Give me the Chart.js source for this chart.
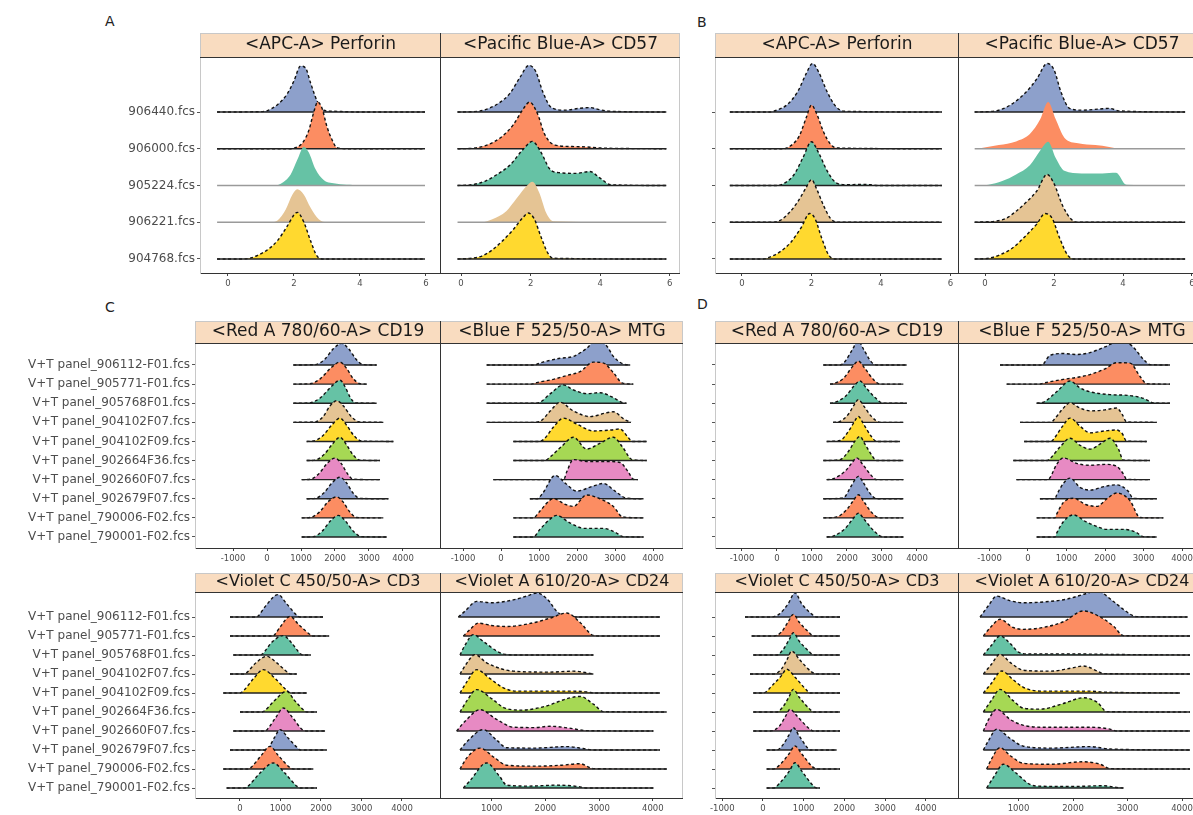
<!DOCTYPE html>
<html>
<head>
<meta charset="utf-8">
<title>Ridge plots</title>
<script src="https://cdn.jsdelivr.net/npm/chart.js@4.4.0/dist/chart.umd.min.js"></script>
<style>
  html, body { margin: 0; padding: 0; background: #fff; overflow: hidden; }
  body { width: 1193px; height: 815px; position: relative; font-family: "DejaVu Sans", sans-serif; }
  .facet { position: absolute; }
  .tag { position: absolute; font-size: 14px; color: #222; }
</style>
</head>
<body>
<div class="tag" style="left:105px;top:13px">A</div>
<div class="tag" style="left:697px;top:14px">B</div>
<div class="tag" style="left:105px;top:299px">C</div>
<div class="tag" style="left:697px;top:296px">D</div>
<script>
// sample names, top row first
var samplesAB = ['906440.fcs', '906000.fcs', '905224.fcs', '906221.fcs', '904768.fcs'];
var samplesCD = ['V+T panel_906112-F01.fcs', 'V+T panel_905771-F01.fcs', 'V+T panel_905768F01.fcs',
  'V+T panel_904102F07.fcs', 'V+T panel_904102F09.fcs', 'V+T panel_902664F36.fcs',
  'V+T panel_902660F07.fcs', 'V+T panel_902679F07.fcs', 'V+T panel_790006-F02.fcs',
  'V+T panel_790001-F02.fcs'];

// tick labels
var ticksAB = [0, 2, 4, 6];
var ticksWide = [-1000, 0, 1000, 2000, 3000, 4000];
var ticksFrom0 = [0, 1000, 2000, 3000, 4000];
var ticksFrom1000 = [1000, 2000, 3000, 4000];

// ridges: one list of [value, density] per sample, top row first
var perforinA = [
  [[-0.33,0],[1.0,0.01],[1.2,0.04],[1.5,0.2],[1.8,0.5],[2.0,0.85],[2.2,1.25],[2.35,1.2],[2.5,0.8],[2.7,0.3],[2.9,0.05],[3.2,0.02],[4,0],[5.97,0]],
  [[-0.33,0],[1.9,0],[2.1,0.05],[2.25,0.15],[2.45,0.5],[2.6,1.0],[2.72,1.27],[2.85,1.1],[3.0,0.6],[3.15,0.25],[3.3,0.03],[3.6,0],[5.97,0]],
  [[-0.33,0],[1.4,0],[1.6,0.05],[1.9,0.3],[2.1,0.7],[2.3,1.05],[2.45,0.9],[2.65,0.45],[2.9,0.15],[3.3,0.05],[3.7,0.02],[4,0],[5.97,0]],
  [[-0.33,0],[1.3,0],[1.5,0.05],[1.75,0.35],[1.95,0.75],[2.1,0.9],[2.3,0.75],[2.5,0.4],[2.75,0.08],[3.0,0],[5.97,0]],
  [[-0.33,0],[0.4,0],[0.7,0.03],[0.9,0.1],[1.2,0.25],[1.5,0.5],[1.8,0.9],[2.0,1.2],[2.1,1.27],[2.3,1.0],[2.5,0.5],[2.7,0.08],[2.9,0],[5.97,0]]
];
var cd57A = [
  [[-0.1,0],[0.5,0.02],[0.8,0.1],[1.1,0.25],[1.4,0.5],[1.7,0.95],[1.95,1.27],[2.15,1.1],[2.35,0.55],[2.6,0.12],[3.0,0.05],[3.4,0.1],[3.7,0.12],[4.0,0.06],[4.3,0.02],[5.9,0]],
  [[-0.1,0],[0.4,0.02],[0.8,0.12],[1.2,0.35],[1.5,0.65],[1.8,1.1],[1.97,1.27],[2.2,0.95],[2.4,0.4],[2.7,0.1],[3.2,0.06],[3.6,0.05],[4.0,0.02],[5.9,0]],
  [[-0.1,0],[0.3,0.02],[0.7,0.12],[1.0,0.28],[1.4,0.55],[1.8,1.0],[2.05,1.2],[2.3,0.9],[2.55,0.45],[2.8,0.35],[3.3,0.33],[3.7,0.38],[4.0,0.2],[4.3,0.02],[5.9,0]],
  [[-0.1,0],[0.6,0],[0.9,0.08],[1.3,0.3],[1.6,0.65],[1.9,1.0],[2.05,1.1],[2.25,0.8],[2.45,0.25],[2.65,0.03],[5.9,0]],
  [[-0.1,0],[0.3,0.02],[0.6,0.08],[0.9,0.25],[1.2,0.5],[1.5,0.8],[1.8,1.15],[1.93,1.25],[2.1,1.1],[2.3,0.6],[2.5,0.15],[2.65,0.02],[5.9,0]]
];
var perforinB = [
  [[-0.35,0],[0.8,0],[1.0,0.05],[1.3,0.2],[1.6,0.55],[1.85,1.05],[2.03,1.32],[2.2,1.1],[2.45,0.55],[2.7,0.15],[2.95,0.02],[5.75,0]],
  [[-0.35,0],[1.2,0],[1.4,0.08],[1.65,0.35],[1.85,0.85],[2.0,1.19],[2.15,0.95],[2.35,0.45],[2.55,0.12],[2.75,0.02],[5.75,0]],
  [[-0.35,0],[1.0,0],[1.25,0.08],[1.5,0.3],[1.75,0.75],[2.0,1.19],[2.2,0.9],[2.45,0.4],[2.7,0.08],[3.0,0.02],[3.4,0.03],[3.7,0.02],[3.9,0],[5.75,0]],
  [[-0.35,0],[0.9,0],[1.1,0.05],[1.35,0.25],[1.6,0.55],[1.85,0.95],[2.0,1.16],[2.15,0.9],[2.35,0.45],[2.55,0.1],[2.75,0],[5.75,0]],
  [[-0.35,0],[0.6,0],[0.8,0.05],[1.1,0.2],[1.4,0.45],[1.7,0.85],[1.95,1.24],[2.1,1.1],[2.3,0.55],[2.5,0.1],[2.7,0],[5.75,0]]
];
var cd57B = [
  [[-0.3,0],[0.3,0.03],[0.6,0.12],[0.9,0.3],[1.2,0.55],[1.5,0.9],[1.8,1.32],[2.0,1.15],[2.2,0.55],[2.45,0.1],[2.8,0.05],[3.3,0.08],[3.6,0.1],[3.9,0.03],[5.8,0]],
  [[-0.3,0],[-0.1,0.02],[0.4,0.1],[0.9,0.2],[1.3,0.4],[1.6,0.8],[1.83,1.27],[2.05,0.8],[2.3,0.3],[2.7,0.15],[3.2,0.1],[3.6,0.05],[3.9,0],[5.8,0]],
  [[-0.3,0],[0.1,0.02],[0.5,0.12],[0.9,0.3],[1.3,0.55],[1.6,0.95],[1.83,1.19],[2.05,0.75],[2.3,0.4],[2.8,0.33],[3.4,0.33],[3.8,0.35],[4.1,0.02],[5.8,0]],
  [[-0.3,0],[0.3,0.03],[0.6,0.1],[0.9,0.3],[1.2,0.55],[1.5,0.85],[1.8,1.3],[2.0,1.05],[2.25,0.45],[2.5,0.08],[2.7,0],[5.8,0]],
  [[-0.3,0],[0.1,0.02],[0.4,0.1],[0.8,0.3],[1.2,0.65],[1.5,0.95],[1.74,1.24],[1.95,1.1],[2.15,0.6],[2.4,0.1],[2.6,0],[5.8,0]]
];
var cd19C = [
  [[775,0],[1412,0.02],[1700,0.3],[1950,0.85],[2196,1.13],[2400,0.85],[2620,0.3],[2833,0.02],[3225,0]],
  [[775,0],[1265,0.02],[1580,0.3],[1880,0.85],[2147,1.15],[2330,0.85],[2530,0.3],[2735,0.02],[2931,0]],
  [[775,0],[1265,0.02],[1580,0.3],[1880,0.85],[2147,1.2],[2300,0.85],[2450,0.3],[2600,0.02],[3225,0]],
  [[775,0],[1412,0.02],[1650,0.3],[1850,0.85],[2049,1.13],[2250,0.85],[2480,0.3],[2735,0.02],[3422,0]],
  [[1167,0],[1363,0.02],[1640,0.3],[1900,0.85],[2147,1.22],[2340,0.85],[2560,0.3],[2784,0.02],[3716,0]],
  [[1167,0],[1412,0.02],[1670,0.3],[1920,0.85],[2147,1.22],[2330,0.85],[2530,0.3],[2735,0.02],[3324,0]],
  [[1020,0],[1265,0.02],[1520,0.3],[1770,0.85],[2000,1.13],[2180,0.85],[2370,0.3],[2539,0.02],[3324,0]],
  [[1167,0],[1412,0.02],[1670,0.3],[1920,0.85],[2147,1.13],[2330,0.85],[2530,0.3],[2735,0.02],[3569,0]],
  [[1020,0],[1265,0.02],[1540,0.3],[1800,0.85],[2049,1.1],[2230,0.85],[2440,0.3],[2640,0.02],[3422,0]],
  [[1020,0],[1363,0.02],[1620,0.3],[1870,0.85],[2098,1.13],[2300,0.85],[2540,0.3],[2784,0.02],[3520,0]]
];
var mtgC = [
  [[-377,0],[851,0],[1100,0.15],[1553,0.35],[1904,0.45],[2254,0.87],[2480,1.25],[2781,1.0],[2956,0.45],[3220,0.05],[3400,0]],
  [[-377,0],[800,0],[939,0.08],[1377,0.25],[1728,0.45],[2079,0.65],[2430,1.15],[2700,1.1],[2956,0.6],[3200,0.05],[3480,0]],
  [[-377,0],[900,0],[1026,0.05],[1300,0.5],[1640,0.96],[1900,0.7],[2254,0.5],[2605,0.55],[2900,0.35],[3200,0.03],[3300,0]],
  [[-377,0],[850,0],[1026,0.05],[1300,0.6],[1553,1.05],[1900,0.6],[2340,0.3],[2781,0.5],[2956,0.55],[3250,0.15],[3420,0]],
  [[325,0],[1000,0],[1120,0.1],[1400,0.8],[1640,1.22],[2000,0.9],[2430,0.55],[2900,0.6],[3132,0.65],[3350,0.2],[3450,0],[3833,0]],
  [[325,0],[1150,0],[1300,0.2],[1600,0.75],[1904,1.22],[2254,0.6],[2600,0.9],[2956,1.22],[3200,0.7],[3450,0.05],[3833,0]],
  [[-202,0],[1650,0],[1728,0.4],[1904,1.05],[2254,0.95],[2781,0.95],[3132,0.9],[3350,0.4],[3482,0.02],[3600,0]],
  [[760,0],[950,0],[1100,0.3],[1420,1.22],[1700,0.8],[1990,0.4],[2400,0.65],[2700,0.8],[3000,0.4],[3307,0.03],[3750,0]],
  [[325,0],[850,0],[1000,0.3],[1377,1.0],[1700,0.7],[1904,0.6],[2254,1.2],[2605,1.0],[2956,0.6],[3200,0.05],[3750,0]],
  [[325,0],[850,0],[1026,0.4],[1300,0.95],[1465,1.13],[1800,0.75],[2200,0.45],[2700,0.45],[3000,0.25],[3220,0.02],[3750,0]]
];
var cd3C = [
  [[-247,0],[411,0],[450,0.05],[640,0.6],[940,1.18],[1150,0.7],[1400,0.1],[1481,0],[2050,0]],
  [[-247,0],[823,0],[850,0.05],[1000,0.5],[1235,1.03],[1450,0.6],[1750,0.05],[1811,0],[2200,0]],
  [[-165,0],[494,0],[550,0.05],[800,0.7],[1070,1.02],[1250,0.7],[1500,0.05],[1560,0],[1750,0]],
  [[-247,0],[80,0],[150,0.05],[400,0.6],[658,0.93],[900,0.6],[1200,0.05],[1250,0],[1400,0]],
  [[-412,0],[0,0],[100,0.15],[350,0.8],[576,1.23],[850,0.8],[1150,0.15],[1250,0],[1650,0]],
  [[0,0],[550,0],[600,0.05],[850,0.6],[1152,1.09],[1350,0.6],[1600,0.05],[1650,0],[1900,0]],
  [[-165,0],[620,0],[700,0.15],[880,0.7],[1070,1.21],[1300,0.7],[1550,0.05],[1650,0],[2100,0]],
  [[-247,0],[620,0],[700,0.1],[850,0.65],[988,1.07],[1200,0.6],[1450,0.05],[1481,0],[2140,0]],
  [[-412,0],[200,0],[280,0.1],[520,0.7],[740,1.19],[950,0.7],[1250,0.05],[1317,0],[1811,0]],
  [[-330,0],[120,0],[200,0.1],[500,0.8],[823,1.32],[1100,0.8],[1400,0.1],[1480,0],[1900,0]]
];
var cd24C = [
  [[379,0],[500,0.3],[720,0.82],[1000,0.75],[1400,0.9],[1650,1.1],[1837,1.26],[2050,0.9],[2210,0.3],[2396,0.02],[2700,0],[4134,0]],
  [[472,0],[600,0.35],[750,0.68],[1000,0.55],[1279,0.5],[1700,0.65],[2100,0.95],[2396,1.21],[2650,0.7],[2893,0.03],[3050,0],[4134,0]],
  [[410,0],[500,0.5],[658,1.07],[850,0.7],[1100,0.2],[1279,0.02],[1500,0],[2893,0]],
  [[410,0],[520,0.5],[690,1.02],[900,0.6],[1150,0.3],[1400,0.15],[2085,0.1],[2520,0.15],[2800,0.05],[2893,0]],
  [[410,0],[540,0.6],[720,1.23],[950,0.8],[1200,0.3],[1450,0.1],[2400,0.1],[2800,0.05],[2893,0],[4134,0]],
  [[410,0],[540,0.6],[720,1.18],[1000,0.7],[1250,0.2],[1550,0.1],[2000,0.3],[2400,0.7],[2644,0.82],[2900,0.4],[3080,0.02],[4258,0]],
  [[348,0],[500,0.5],[782,1.12],[1100,0.6],[1403,0.2],[1800,0.18],[2085,0.25],[2450,0.15],[2768,0.02],[4010,0]],
  [[410,0],[560,0.5],[844,1.07],[1100,0.5],[1279,0.12],[1800,0.1],[2396,0.18],[2700,0.08],[2893,0],[4134,0]],
  [[410,0],[540,0.6],[782,1.1],[1050,0.6],[1279,0.2],[1800,0.15],[2300,0.2],[2644,0.28],[2893,0.02],[4258,0]],
  [[472,0],[600,0.4],[906,1.32],[1150,0.6],[1279,0.15],[1700,0.1],[2210,0.15],[2600,0.08],[2768,0],[4010,0]]
];
var cd19D = [
  [[1324,0],[1800,0],[1950,0.2],[2150,0.8],[2324,1.26],[2480,0.8],[2700,0.15],[2848,0],[3705,0]],
  [[1514,0],[1600,0.02],[1900,0.3],[2150,0.9],[2324,1.2],[2500,0.85],[2750,0.25],[2950,0],[3610,0]],
  [[1514,0],[1610,0.02],[1950,0.35],[2200,0.9],[2371,1.16],[2550,0.8],[2800,0.3],[3038,0],[3705,0]],
  [[1600,0],[1800,0.05],[2050,0.45],[2200,0.9],[2324,1.19],[2480,0.85],[2700,0.3],[2950,0],[3610,0]],
  [[1420,0],[1800,0.05],[2050,0.55],[2200,1.0],[2324,1.31],[2460,0.95],[2680,0.3],[2848,0],[3515,0]],
  [[1324,0],[1800,0.05],[2050,0.5],[2220,1.0],[2371,1.26],[2500,0.9],[2700,0.3],[2848,0],[3610,0]],
  [[1420,0],[1610,0.05],[1950,0.45],[2150,0.9],[2276,1.14],[2450,0.8],[2680,0.25],[2848,0],[3610,0]],
  [[1324,0],[1895,0.05],[2100,0.6],[2230,1.0],[2324,1.17],[2450,0.9],[2650,0.3],[2848,0],[3610,0]],
  [[1324,0],[1705,0.05],[2000,0.45],[2180,0.9],[2324,1.21],[2480,0.85],[2720,0.25],[2950,0],[3610,0]],
  [[1420,0],[1610,0.05],[1950,0.45],[2170,0.95],[2324,1.24],[2500,0.9],[2780,0.3],[3038,0],[3610,0]]
];
var mtgD = [
  [[-727,0],[350,0],[571,0.5],[900,0.6],[1264,0.55],[1610,0.65],[2000,0.95],[2390,1.26],[2700,1.0],[2996,0.3],[3169,0.02],[3688,0]],
  [[-554,0],[300,0],[398,0.05],[918,0.25],[1264,0.35],[1610,0.5],[2000,0.8],[2303,1.12],[2649,1.1],[2910,0.4],[3083,0.02],[3688,0]],
  [[225,0],[398,0.05],[745,0.6],[1091,1.16],[1350,0.8],[1610,0.6],[2130,0.45],[2649,0.4],[3000,0.25],[3255,0.02],[3688,0]],
  [[-208,0],[600,0],[658,0.1],[900,0.7],[1091,1.02],[1350,0.75],[1610,0.6],[2000,0.65],[2303,0.75],[2450,0.4],[2560,0.02],[3342,0]],
  [[-100,0],[600,0],[658,0.1],[900,0.8],[1091,1.22],[1350,0.8],[1610,0.45],[2000,0.55],[2303,0.6],[2450,0.4],[2560,0.02],[3083,0]],
  [[-381,0],[500,0],[571,0.1],[850,0.75],[1091,1.17],[1350,0.8],[1610,0.6],[1900,0.9],[2130,1.17],[2350,0.6],[2476,0.02],[3169,0]],
  [[-300,0],[500,0],[571,0.1],[745,0.8],[918,1.14],[1264,0.85],[1610,0.75],[2000,0.8],[2303,0.7],[2476,0.3],[2560,0.02],[3169,0]],
  [[310,0],[700,0],[745,0.2],[918,0.8],[1091,1.08],[1350,0.6],[1610,0.45],[2000,0.65],[2300,0.73],[2600,0.4],[2736,0.02],[3342,0]],
  [[225,0],[700,0],[745,0.2],[918,0.8],[1177,1.03],[1500,0.7],[1784,0.6],[2050,1.0],[2303,1.3],[2650,0.9],[2910,0.02],[3515,0]],
  [[225,0],[700,0],[745,0.2],[918,0.8],[1177,1.16],[1500,0.8],[1784,0.55],[2043,0.4],[2500,0.4],[2800,0.25],[2996,0.02],[3342,0]]
];
var cd3D = [
  [[-442,0],[172,0],[400,0.15],[620,0.7],[786,1.28],[950,0.7],[1200,0.15],[1319,0],[1892,0]],
  [[-278,0],[254,0],[450,0.2],[620,0.75],[745,1.14],[900,0.7],[1150,0.15],[1237,0],[1892,0]],
  [[-238,0],[336,0],[500,0.3],[640,0.8],[745,1.17],[900,0.7],[1150,0.15],[1237,0],[1892,0]],
  [[-319,0],[254,0],[450,0.25],[600,0.8],[704,1.21],[900,0.75],[1200,0.1],[1319,0],[1892,0]],
  [[-238,0],[8,0],[250,0.45],[450,0.9],[581,1.25],[800,0.8],[1050,0.2],[1155,0],[1892,0]],
  [[-238,0],[336,0],[500,0.3],[640,0.8],[745,1.19],[900,0.75],[1150,0.15],[1237,0],[1892,0]],
  [[-238,0],[172,0],[400,0.25],[560,0.8],[663,1.14],[850,0.75],[1150,0.1],[1237,0],[1892,0]],
  [[90,0],[336,0],[500,0.3],[640,0.8],[745,1.17],[900,0.7],[1100,0.1],[1155,0],[1810,0]],
  [[90,0],[254,0],[450,0.3],[640,0.8],[786,1.21],[950,0.8],[1200,0.15],[1319,0],[1892,0]],
  [[90,0],[254,0],[450,0.35],[650,0.9],[786,1.33],[950,0.9],[1200,0.2],[1319,0],[1400,0]]
];
var cd24D = [
  [[294,0],[450,0.6],[599,1.1],[850,0.85],[1089,0.75],[1500,0.8],[1900,0.95],[2200,1.2],[2434,1.37],[2750,0.8],[2924,0.4],[3168,0.02],[4100,0]],
  [[355,0],[500,0.5],[660,0.88],[900,0.45],[1089,0.35],[1450,0.45],[1823,0.75],[2190,1.32],[2500,1.0],[2750,0.5],[2924,0.02],[4147,0]],
  [[355,0],[500,0.5],[660,1.0],[850,0.6],[1000,0.15],[1200,0.05],[2190,0.05],[2700,0.03],[4147,0]],
  [[355,0],[500,0.5],[660,1.04],[850,0.6],[1089,0.2],[1600,0.15],[1950,0.3],[2190,0.42],[2450,0.15],[2557,0.02],[4147,0]],
  [[355,0],[500,0.5],[690,1.16],[900,0.7],[1089,0.3],[1400,0.1],[2300,0.1],[2557,0.05],[3963,0]],
  [[355,0],[500,0.6],[660,1.19],[900,0.6],[1089,0.2],[1400,0.15],[1823,0.45],[2190,0.75],[2450,0.5],[2618,0.02],[4147,0]],
  [[355,0],[450,0.6],[599,1.14],[850,0.6],[1089,0.3],[1500,0.2],[2300,0.2],[2679,0.1],[2800,0],[4147,0]],
  [[355,0],[450,0.5],[599,1.09],[850,0.6],[1089,0.2],[1600,0.1],[2312,0.18],[2679,0.05],[4147,0]],
  [[416,0],[500,0.5],[660,1.12],[850,0.7],[1089,0.3],[1600,0.25],[2190,0.38],[2500,0.25],[2679,0.02],[4147,0]],
  [[416,0],[550,0.6],[722,1.25],[950,0.8],[1200,0.2],[1333,0.1],[2000,0.08],[2557,0.12],[2801,0.03],[2924,0]]
];

var colors5 = ['#8DA0CB', '#FC8D62', '#66C2A5', '#E5C494', '#FFD92F'];
var colors10 = ['#8DA0CB', '#FC8D62', '#66C2A5', '#E5C494', '#FFD92F', '#A6D854', '#E78AC3', '#8DA0CB', '#FC8D62', '#66C2A5'];

Chart.defaults.font.family = '"DejaVu Sans", sans-serif';

// strip background + panel borders
var frame = {
  id: 'frame',
  beforeDraw: function (chart) {
    var a = chart.chartArea, t = chart.titleBlock, ctx = chart.ctx;
    ctx.save();
    ctx.fillStyle = '#f9dcc0';
    ctx.fillRect(a.left, t.top, a.right - a.left, t.bottom - t.top);
    ctx.restore();
  },
  afterDraw: function (chart, args, opts) {
    var a = chart.chartArea, t = chart.titleBlock, ctx = chart.ctx;
    ctx.save();
    ctx.lineWidth = 1;
    ctx.strokeStyle = '#c8c8c8';
    ctx.beginPath();
    ctx.moveTo(a.left, t.top + 0.5); ctx.lineTo(a.right, t.top + 0.5);
    if (opts.first) { ctx.moveTo(a.left + 0.5, t.top); ctx.lineTo(a.left + 0.5, a.bottom); }
    if (!opts.first) { ctx.moveTo(a.right - 0.5, t.top); ctx.lineTo(a.right - 0.5, a.bottom); }
    ctx.stroke();
    ctx.strokeStyle = '#333';
    ctx.beginPath();
    ctx.moveTo(a.left, a.top + 0.5); ctx.lineTo(a.right, a.top + 0.5);
    if (opts.first) { ctx.moveTo(a.right - 0.5, t.top); ctx.lineTo(a.right - 0.5, a.bottom); }
    ctx.stroke();
    ctx.restore();
  }
};

function facet(o) {
  var div = document.createElement('div');
  div.className = 'facet';
  div.style.left = o.left + 'px';
  div.style.top = o.top + 'px';
  div.style.width = o.width + 'px';
  div.style.height = o.height + 'px';
  var canvas = document.createElement('canvas');
  div.appendChild(canvas);
  document.body.appendChild(div);

  var n = o.ridges.length;
  var plain = o.plain || [];
  var datasets = [];
  o.ridges.forEach(function (pts, i) {
    var base = n - 1 - i;
    var bare = plain.indexOf(i) >= 0;
    datasets.push({
      data: pts.map(function (p) { return {x: p[0], y: base + p[1]}; }),
      backgroundColor: o.colors[i],
      borderColor: bare ? 'rgba(0,0,0,0)' : '#111',
      borderWidth: 1.4,
      borderDash: [3, 2.5],
      fill: {value: base},
      pointRadius: 0,
      cubicInterpolationMode: 'monotone',
      order: 2 * (n - i)
    });
    datasets.push({
      data: [{x: pts[0][0], y: base}, {x: pts[pts.length - 1][0], y: base}],
      borderColor: bare ? '#9a9a9a' : '#222',
      borderWidth: 1.4,
      fill: false,
      pointRadius: 0,
      order: 2 * (n - i) - 1
    });
  });

  new Chart(canvas, {
    type: 'line',
    data: {datasets: datasets},
    plugins: [frame],
    options: {
      responsive: true,
      maintainAspectRatio: false,
      animation: false,
      layout: {padding: 0},
      plugins: {
        legend: {display: false},
        tooltip: {enabled: false},
        frame: {first: o.first},
        title: {
          display: true,
          text: o.title,
          fullSize: false,
          color: '#1a1a1a',
          font: {size: o.tSize, lineHeight: 1, weight: 'normal'},
          padding: {top: o.tPad[0], bottom: o.tPad[1]}
        }
      },
      scales: {
        x: {
          type: 'linear', min: o.xmin, max: o.xmax,
          afterBuildTicks: function (s) { s.ticks = o.ticks.map(function (v) { return {value: v}; }); },
          afterFit: function (s) { s.height = o.axisH; s.paddingLeft = 0; s.paddingRight = 0; },
          ticks: {autoSkip: false, maxRotation: 0, color: '#4d4d4d', font: {size: 8.5}, padding: 3,
            callback: function (v) { return String(v); }},
          grid: {drawOnChartArea: false, tickLength: 3, color: '#444'},
          border: {color: '#333', width: 1}
        },
        y: {
          type: 'linear', min: o.ymin, max: o.ymax, display: o.yMode !== 'none',
          afterBuildTicks: function (s) { s.ticks = o.labels.map(function (_, i) { return {value: n - 1 - i}; }); },
          afterFit: function (s) { s.width = o.yW; },
          ticks: {autoSkip: false, color: '#4d4d4d', font: {size: 12}, padding: 2,
            callback: function (v) { return o.yMode === 'labels' ? o.labels[n - 1 - v] : ''; }},
          grid: {drawOnChartArea: false, tickLength: 3, color: '#555'},
          border: {color: '#c8c8c8'}
        }
      }
    }
  });
}

var rowAB = {top: 33, height: 260, axisH: 20, ymin: -0.381, ymax: 5.497, tSize: 17, tPad: [3, 4], labels: samplesAB, colors: colors5, ticks: ticksAB};
var rowCt = {top: 321, height: 247, axisH: 20, ymin: -0.576, ymax: 10.151, tSize: 17, tPad: [2, 3], labels: samplesCD, colors: colors10};
var rowCb = {top: 573, height: 242, axisH: 17, ymin: -0.526, ymax: 10.316, tSize: 16, tPad: [1, 2], labels: samplesCD, colors: colors10};

function make(row, extra) { facet(Object.assign({}, row, extra)); }

// panel A
make(rowAB, {left: 100, width: 341, yW: 100, yMode: 'labels', first: true, title: '<APC-A> Perforin', ridges: perforinA, xmin: -0.848, xmax: 6.455, plain: [2, 3]});
make(rowAB, {left: 441, width: 239, yW: 0, yMode: 'none', first: false, title: '<Pacific Blue-A> CD57', ridges: cd57A, xmin: -0.575, xmax: 6.293, plain: [3]});
// panel B
make(rowAB, {left: 709, width: 250, yW: 6, yMode: 'ticks', first: true, title: '<APC-A> Perforin', ridges: perforinB, xmin: -0.777, xmax: 6.245});
make(rowAB, {left: 959, width: 246, yW: 0, yMode: 'none', first: false, title: '<Pacific Blue-A> CD57', ridges: cd57B, xmin: -0.754, xmax: 6.377, plain: [1, 2]});
// panel C
make(rowCt, {left: 5, width: 436, yW: 190, yMode: 'labels', first: true, title: '<Red A 780/60-A> CD19', ridges: cd19C, xmin: -2118, xmax: 5118, ticks: ticksWide});
make(rowCt, {left: 441, width: 242, yW: 0, yMode: 'none', first: false, title: '<Blue F 525/50-A> MTG', ridges: mtgC, xmin: -1579, xmax: 4789, ticks: ticksWide});
make(rowCb, {left: 5, width: 436, yW: 190, yMode: 'labels', first: true, title: '<Violet C 450/50-A> CD3', ridges: cd3C, xmin: -1111, xmax: 4963, ticks: ticksFrom0});
make(rowCb, {left: 441, width: 242, yW: 0, yMode: 'none', first: false, title: '<Violet A 610/20-A> CD24', ridges: cd24C, xmin: 56, xmax: 4562, ticks: ticksFrom1000});
// panel D
make(rowCt, {left: 709, width: 250, yW: 6, yMode: 'ticks', first: true, title: '<Red A 780/60-A> CD19', ridges: cd19D, xmin: -1771, xmax: 5200, ticks: ticksWide});
make(rowCt, {left: 959, width: 246, yW: 0, yMode: 'none', first: false, title: '<Blue F 525/50-A> MTG', ridges: mtgD, xmin: -1792, xmax: 4597, ticks: ticksWide});
make(rowCb, {left: 709, width: 250, yW: 6, yMode: 'ticks', first: true, title: '<Violet C 450/50-A> CD3', ridges: cd3D, xmin: -1179, xmax: 4816, ticks: ticksWide});
make(rowCb, {left: 959, width: 246, yW: 0, yMode: 'none', first: false, title: '<Violet A 610/20-A> CD24', ridges: cd24D, xmin: -92, xmax: 4422, ticks: ticksFrom1000});
</script>
</body>
</html>
